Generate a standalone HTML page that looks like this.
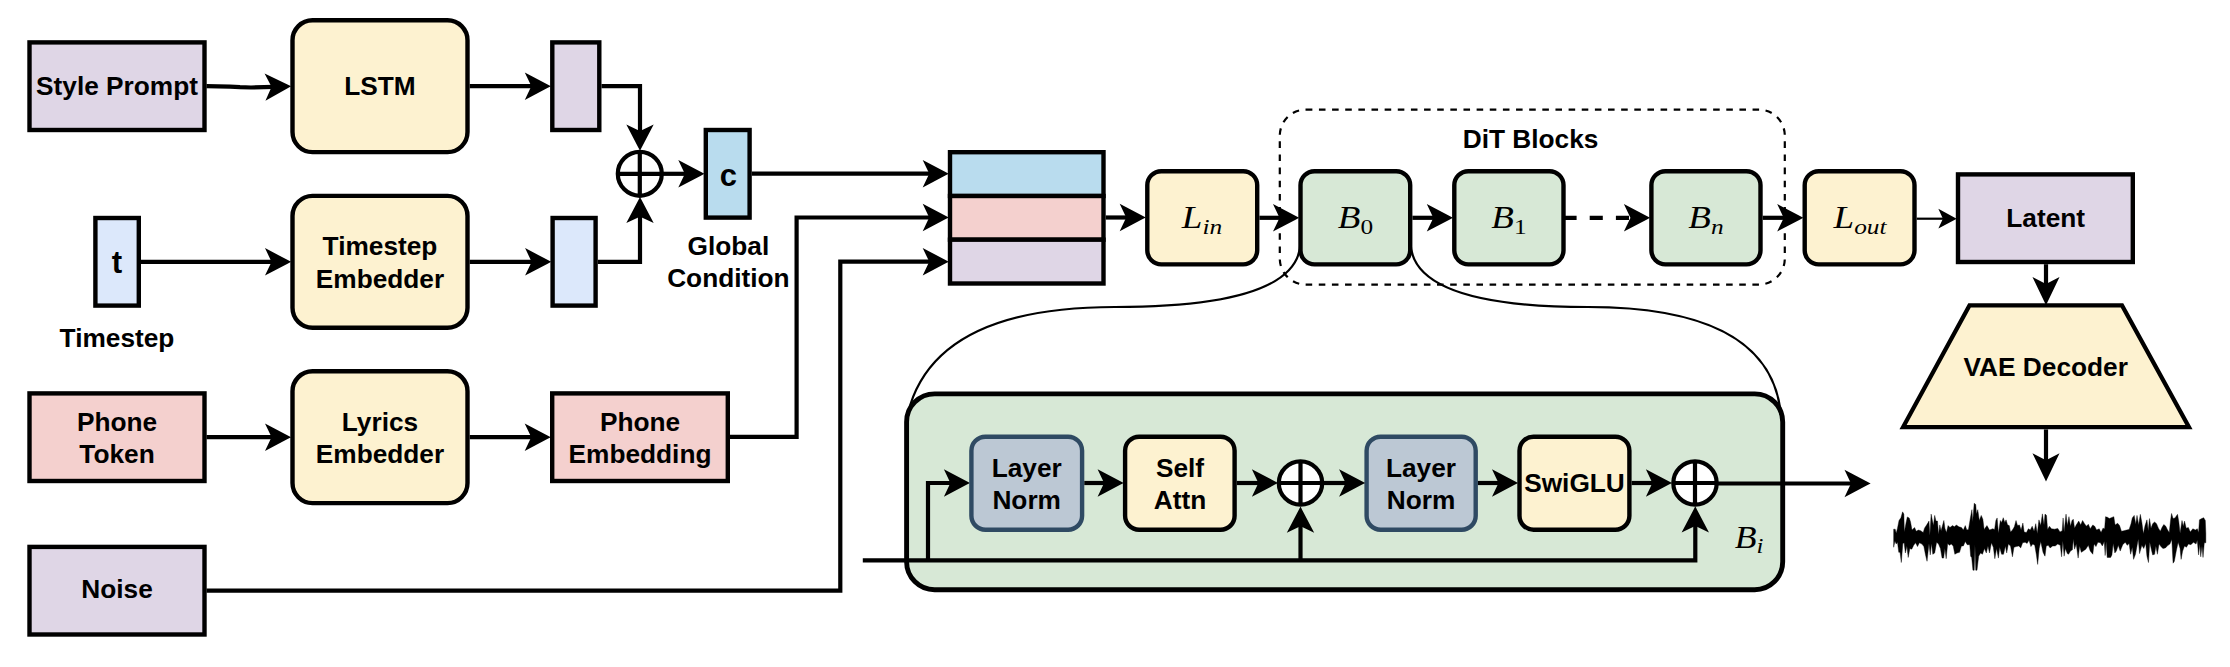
<!DOCTYPE html>
<html lang="en">
<head>
<meta charset="utf-8">
<title>Model architecture diagram</title>
<style>
html,body{margin:0;padding:0;background:#fff;}
body{width:2230px;height:667px;overflow:hidden;}
svg{display:block;}
.lb{font-family:"Liberation Sans",Arial,Helvetica,sans-serif;font-weight:700;text-anchor:middle;fill:#000;}
.mt{font-family:"Liberation Serif","Times New Roman",serif;font-style:italic;fill:#000;}
</style>
</head>
<body>
<svg width="2230" height="667" viewBox="0 0 2230 667">
<rect width="2230" height="667" fill="#fff"/>
<rect x="29.5" y="42.4" width="175" height="87.6" fill="#dfd6e6" stroke="#000" stroke-width="4.4"/>
<text x="117" y="95" class="lb" font-size="26.25">Style Prompt</text>
<rect x="292.5" y="20.3" width="175" height="131.8" rx="20" ry="20" fill="#fdf2d0" stroke="#000" stroke-width="4.4"/>
<text x="380" y="95" class="lb" font-size="26.25">LSTM</text>
<rect x="552.3" y="42.4" width="47" height="87.6" fill="#dfd6e6" stroke="#000" stroke-width="4.4"/>
<path d="M286.61 86.41L269.89 95.83L273.86 86.8L269.34 78.04Z" fill="#000" stroke="#000" stroke-width="4.2" stroke-miterlimit="10"/>
<path d="M206.5 86.2L218 86.3L230 86.7L240 87.2L251 87.5L273.86 86.8" fill="none" stroke="#000" stroke-width="4.2" stroke-miterlimit="10"/>
<path d="M546.4 86.2L529.4 95.1L533.65 86.2L529.4 77.3Z" fill="#000" stroke="#000" stroke-width="4.2" stroke-miterlimit="10"/>
<path d="M469.7 86.2L533.65 86.2" fill="none" stroke="#000" stroke-width="4.2" stroke-miterlimit="10"/>
<path d="M640 146.2L631.1 129.2L640 133.45L648.9 129.2Z" fill="#000" stroke="#000" stroke-width="4.2" stroke-miterlimit="10"/>
<path d="M601.5 86.2L640 86.2L640 133.45" fill="none" stroke="#000" stroke-width="4.2" stroke-miterlimit="10"/>
<rect x="95.4" y="218" width="43.4" height="87.6" fill="#dce8fb" stroke="#000" stroke-width="4.4"/>
<text x="117" y="272.79" class="lb" font-size="31.3">t</text>
<text x="117" y="346.6" class="lb" font-size="26.25">Timestep</text>
<rect x="292.5" y="195.9" width="175" height="131.8" rx="20" ry="20" fill="#fdf2d0" stroke="#000" stroke-width="4.4"/>
<text x="380" y="255.35" class="lb" font-size="26.25">Timestep</text>
<text x="380" y="288.05" class="lb" font-size="26.25">Embedder</text>
<rect x="552.6" y="218" width="43" height="87.6" fill="#dce8fb" stroke="#000" stroke-width="4.4"/>
<path d="M286.6 261.8L269.6 270.7L273.85 261.8L269.6 252.9Z" fill="#000" stroke="#000" stroke-width="4.2" stroke-miterlimit="10"/>
<path d="M141 261.8L273.85 261.8" fill="none" stroke="#000" stroke-width="4.2" stroke-miterlimit="10"/>
<path d="M546.7 261.8L529.7 270.7L533.95 261.8L529.7 252.9Z" fill="#000" stroke="#000" stroke-width="4.2" stroke-miterlimit="10"/>
<path d="M469.7 261.8L533.95 261.8" fill="none" stroke="#000" stroke-width="4.2" stroke-miterlimit="10"/>
<path d="M640 201.5L648.9 218.5L640 214.25L631.1 218.5Z" fill="#000" stroke="#000" stroke-width="4.2" stroke-miterlimit="10"/>
<path d="M597.8 261.8L640 261.8L640 214.25" fill="none" stroke="#000" stroke-width="4.2" stroke-miterlimit="10"/>
<circle cx="639.8" cy="173.8" r="22" fill="#fff" stroke="#000" stroke-width="4.2"/>
<path d="M617.8 173.8H661.8M639.8 151.8V195.8" stroke="#000" stroke-width="4.2" fill="none"/>
<rect x="705.8" y="130" width="43.8" height="87.6" fill="#b9dcee" stroke="#000" stroke-width="4.4"/>
<text x="728.4" y="185.99" class="lb" font-size="31">c</text>
<path d="M699.9 173.8L682.9 182.7L687.15 173.8L682.9 164.9Z" fill="#000" stroke="#000" stroke-width="4.2" stroke-miterlimit="10"/>
<path d="M661.8 173.8L687.15 173.8" fill="none" stroke="#000" stroke-width="4.2" stroke-miterlimit="10"/>
<text x="728.4" y="254.7" class="lb" font-size="26.25">Global</text>
<text x="728.4" y="287.2" class="lb" font-size="26.25">Condition</text>
<path d="M944.3 173.7L927.3 182.6L931.55 173.7L927.3 164.8Z" fill="#000" stroke="#000" stroke-width="4.2" stroke-miterlimit="10"/>
<path d="M751.8 173.7L931.55 173.7" fill="none" stroke="#000" stroke-width="4.2" stroke-miterlimit="10"/>
<rect x="29.5" y="393.4" width="175" height="87.6" fill="#f4d0ce" stroke="#000" stroke-width="4.4"/>
<text x="117" y="430.75" class="lb" font-size="26.25">Phone</text>
<text x="117" y="463.45" class="lb" font-size="26.25">Token</text>
<rect x="292.5" y="371.3" width="175" height="131.8" rx="20" ry="20" fill="#fdf2d0" stroke="#000" stroke-width="4.4"/>
<text x="380" y="430.75" class="lb" font-size="26.25">Lyrics</text>
<text x="380" y="463.45" class="lb" font-size="26.25">Embedder</text>
<rect x="552.2" y="393.4" width="175.6" height="87.6" fill="#f4d0ce" stroke="#000" stroke-width="4.4"/>
<text x="640" y="430.75" class="lb" font-size="26.25">Phone</text>
<text x="640" y="463.45" class="lb" font-size="26.25">Embedding</text>
<path d="M286.6 437.2L269.6 446.1L273.85 437.2L269.6 428.3Z" fill="#000" stroke="#000" stroke-width="4.2" stroke-miterlimit="10"/>
<path d="M206.5 437.2L273.85 437.2" fill="none" stroke="#000" stroke-width="4.2" stroke-miterlimit="10"/>
<path d="M546.3 437.2L529.3 446.1L533.55 437.2L529.3 428.3Z" fill="#000" stroke="#000" stroke-width="4.2" stroke-miterlimit="10"/>
<path d="M469.7 437.2L533.55 437.2" fill="none" stroke="#000" stroke-width="4.2" stroke-miterlimit="10"/>
<path d="M944.3 217.5L927.3 226.4L931.55 217.5L927.3 208.6Z" fill="#000" stroke="#000" stroke-width="4.2" stroke-miterlimit="10"/>
<path d="M730 436.8L796.6 436.8L796.6 217.5L931.55 217.5" fill="none" stroke="#000" stroke-width="4.2" stroke-miterlimit="10"/>
<rect x="29.5" y="546.9" width="175" height="87.6" fill="#dfd6e6" stroke="#000" stroke-width="4.4"/>
<text x="117" y="598.2" class="lb" font-size="26.25">Noise</text>
<path d="M944.3 261.7L927.3 270.6L931.55 261.7L927.3 252.8Z" fill="#000" stroke="#000" stroke-width="4.2" stroke-miterlimit="10"/>
<path d="M206.5 590.7L840.3 590.7L840.3 261.7L931.55 261.7" fill="none" stroke="#000" stroke-width="4.2" stroke-miterlimit="10"/>
<rect x="950" y="152.2" width="153.5" height="43.8" fill="#b9dcee" stroke="#000" stroke-width="4.4"/>
<rect x="950" y="196" width="153.5" height="43.7" fill="#f4d0ce" stroke="#000" stroke-width="4.4"/>
<rect x="950" y="239.7" width="153.5" height="43.8" fill="#dfd6e6" stroke="#000" stroke-width="4.4"/>
<path d="M1141.3 217.5L1124.3 226.4L1128.55 217.5L1124.3 208.6Z" fill="#000" stroke="#000" stroke-width="4.2" stroke-miterlimit="10"/>
<path d="M1105.7 217.5L1128.55 217.5" fill="none" stroke="#000" stroke-width="4.2" stroke-miterlimit="10"/>
<path d="M1300.5 241.5Q1300.5 307 1115 307Q941.5 307 910.2 405" fill="none" stroke="#000" stroke-width="2.2"/>
<path d="M1410.5 241.5Q1410.5 307 1588 307Q1765.5 307 1780.2 408.4" fill="none" stroke="#000" stroke-width="2.2"/>
<rect x="1279.8" y="109.6" width="505" height="175" rx="26" ry="26" fill="none" stroke="#000" stroke-width="2.2" stroke-dasharray="6.57 6.57"/>
<text x="1530.6" y="147.6" class="lb" font-size="26.25">DiT Blocks</text>
<rect x="1147.3" y="171.2" width="109.9" height="93.2" rx="14" ry="14" fill="#fdf2d0" stroke="#000" stroke-width="4.4"/>
<rect x="1300.5" y="171.2" width="109.7" height="93.2" rx="14" ry="14" fill="#d7e8d6" stroke="#000" stroke-width="4.4"/>
<rect x="1454.3" y="171.2" width="109.2" height="93.2" rx="14" ry="14" fill="#d7e8d6" stroke="#000" stroke-width="4.4"/>
<rect x="1651.4" y="171.2" width="109.1" height="93.2" rx="14" ry="14" fill="#d7e8d6" stroke="#000" stroke-width="4.4"/>
<rect x="1804.7" y="171.2" width="109.8" height="93.2" rx="14" ry="14" fill="#fdf2d0" stroke="#000" stroke-width="4.4"/>
<g transform="translate(1202 228) scale(1.15 1)"><text class="mt" text-anchor="middle" font-size="32.2"><tspan>L</tspan><tspan font-size="22" dy="5.5">in</tspan></text></g>
<g transform="translate(1355.5 228) scale(1.15 1)"><text class="mt" text-anchor="middle" font-size="32.2"><tspan>B</tspan><tspan font-size="22" dy="5.5" font-style="normal">0</tspan></text></g>
<g transform="translate(1509 228) scale(1.15 1)"><text class="mt" text-anchor="middle" font-size="32.2"><tspan>B</tspan><tspan font-size="22" dy="5.5" font-style="normal">1</tspan></text></g>
<g transform="translate(1706 228) scale(1.15 1)"><text class="mt" text-anchor="middle" font-size="32.2"><tspan>B</tspan><tspan font-size="22" dy="5.5">n</tspan></text></g>
<g transform="translate(1860 228) scale(1.15 1)"><text class="mt" text-anchor="middle" font-size="32.2"><tspan>L</tspan><tspan font-size="22" dy="5.5">out</tspan></text></g>
<path d="M1294.6 217.8L1277.6 226.7L1281.85 217.8L1277.6 208.9Z" fill="#000" stroke="#000" stroke-width="4.2" stroke-miterlimit="10"/>
<path d="M1259.4 217.8L1281.85 217.8" fill="none" stroke="#000" stroke-width="4.2" stroke-miterlimit="10"/>
<path d="M1448.4 217.8L1431.4 226.7L1435.65 217.8L1431.4 208.9Z" fill="#000" stroke="#000" stroke-width="4.2" stroke-miterlimit="10"/>
<path d="M1412.4 217.8L1435.65 217.8" fill="none" stroke="#000" stroke-width="4.2" stroke-miterlimit="10"/>
<path d="M1645.5 217.8L1628.5 226.7L1632.75 217.8L1628.5 208.9Z" fill="#000" stroke="#000" stroke-width="4.2" stroke-miterlimit="10"/>
<path d="M1563.5 217.8L1632.75 217.8" fill="none" stroke="#000" stroke-width="4.2" stroke-miterlimit="10" stroke-dasharray="13.1 13.1"/>
<path d="M1798.8 217.8L1781.8 226.7L1786.05 217.8L1781.8 208.9Z" fill="#000" stroke="#000" stroke-width="4.2" stroke-miterlimit="10"/>
<path d="M1762.7 217.8L1786.05 217.8" fill="none" stroke="#000" stroke-width="4.2" stroke-miterlimit="10"/>
<path d="M1954.34 218.7L1940.74 226L1944.14 218.7L1940.74 211.4Z" fill="#000" stroke="#000" stroke-width="2.2" stroke-miterlimit="10"/>
<path d="M1916.7 218.7L1944.14 218.7" fill="none" stroke="#000" stroke-width="2.2" stroke-miterlimit="10"/>
<rect x="1958" y="174.4" width="174.8" height="87.6" fill="#dfd6e6" stroke="#000" stroke-width="4.4"/>
<text x="2045.7" y="227.1" class="lb" font-size="26.25">Latent</text>
<path d="M2046 300.3L2037.1 281.8L2046 286.43L2054.9 281.8Z" fill="#000" stroke="#000" stroke-width="4.2" stroke-miterlimit="10"/>
<path d="M2046 264.2L2046 286.43" fill="none" stroke="#000" stroke-width="4.2" stroke-miterlimit="10"/>
<path d="M1903 427.2L1969.5 305.4H2122L2189 427.2Z" fill="#fdf2d0" stroke="#000" stroke-width="4.2" stroke-miterlimit="10"/>
<text x="2045.7" y="376.1" class="lb" font-size="26.25">VAE Decoder</text>
<path d="M2046 476.6L2037.1 458.1L2046 462.73L2054.9 458.1Z" fill="#000" stroke="#000" stroke-width="4.2" stroke-miterlimit="10"/>
<path d="M2046 429.4L2046 462.73" fill="none" stroke="#000" stroke-width="4.2" stroke-miterlimit="10"/>
<polygon points="1893.67,529.15 1895.19,529.15 1896.21,533.23 1897.49,528.13 1899.02,520.49 1900.93,517.68 1902.59,511.82 1903.86,514.12 1904.37,531.96 1906.03,523.04 1907.3,516.92 1909.21,517.94 1910.49,521.76 1912.02,530.05 1914.57,527.5 1916.22,531.32 1918.39,530.05 1920.68,530.68 1923.23,532.59 1924.51,528.13 1927.05,524.31 1928.97,521.12 1929.86,535.78 1931.13,514.12 1932.41,520.49 1933.43,525.58 1934.7,515.39 1935.97,521.12 1937.5,521.12 1938.52,534.51 1939.8,524.95 1941.07,530.68 1943.88,520.49 1944.9,528.13 1946.42,532.59 1948.08,525.58 1949.99,527.5 1952.54,525.58 1954.45,526.86 1956.36,524.95 1958.91,526.86 1961.46,527.5 1963.37,530.05 1965.29,525.58 1966.81,530.05 1968.47,529.41 1970.38,517.94 1971.91,509.66 1972.68,521.76 1974.21,503.28 1975.74,504.56 1976.5,514.12 1977.77,509.66 1979.3,520.49 1981.22,515.39 1982.87,519.21 1984.15,529.41 1986.95,525.58 1989.5,530.05 1992.68,528.77 1994.6,529.41 1995.87,520.49 1997.14,517.94 1998.42,533.23 2000.33,520.49 2001.61,522.4 2003.26,517.68 2004.79,522.4 2006.07,519.85 2007.59,524.95 2009.25,525.58 2010.53,531.96 2012.44,530.05 2014.35,526.86 2016.01,520.49 2017.53,525.58 2019.45,524.95 2021.1,530.05 2022.89,523.04 2024.16,531.96 2026.46,532.59 2028.37,528.77 2030.28,530.05 2032.19,526.22 2034.1,531.32 2035.76,523.67 2037.29,533.87 2038.94,519.85 2040.73,525.58 2042.38,513.86 2044.04,524.95 2045,514.12 2046.53,515.39 2047.55,529.41 2049.46,526.22 2051.37,528.77 2054.56,529.15 2057.74,528.39 2060.04,531.96 2062.2,530.68 2063.1,517.94 2064.12,531.96 2066.03,514.12 2067.3,525.58 2068.96,516.66 2070.49,526.22 2072.02,520.49 2073.29,519.21 2074.57,528.13 2076.22,524.95 2078.77,521.12 2080.68,524.95 2082.59,520.49 2084.51,523.67 2086.42,526.22 2088.33,524.31 2090.24,528.77 2092.79,524.95 2094.7,526.22 2096.61,530.05 2099.16,528.77 2101.07,532.59 2102.98,528.13 2104.64,528.77 2105.53,516.66 2107.44,517.3 2109.36,518.58 2111.27,517.68 2113.82,516.66 2115.09,524.95 2117.64,523.29 2119.55,525.58 2121.46,531.32 2124.01,530.68 2126.56,530.05 2129.11,529.41 2131.02,523.67 2132.29,517.94 2134.21,515.39 2135.74,524.31 2137.01,515.39 2138.67,524.95 2140.32,514.37 2141.85,522.4 2143.38,533.87 2145.04,525.58 2146.95,519.85 2148.22,530.68 2149.5,518.58 2151.03,528.13 2152.68,523.67 2154.6,522.02 2156.51,523.67 2158.42,528.13 2160.33,531.32 2161.99,527.5 2163.77,524.57 2165.81,526.22 2167.34,529.41 2169.25,532.59 2170.53,520.49 2171.55,513.48 2173.07,518.58 2174.99,517.94 2177.53,514.37 2178.81,521.76 2180.08,533.23 2182,520.49 2183.27,526.22 2184.54,521.12 2186.2,528.13 2188.37,527.5 2190.28,531.96 2192.83,528.77 2195.38,530.05 2197.29,528.77 2198.56,532.59 2199.45,519.85 2201.75,518.58 2203.66,517.68 2205.32,520.49 2205.83,533.23 2205.83,542.79 2204.3,542.79 2203.02,557.44 2202,545.97 2200.73,556.81 2199.84,544.06 2198.56,554.9 2197.29,540.24 2196.01,544.06 2193.46,542.15 2190.92,544.7 2188.37,544.06 2186.46,547.25 2184.54,545.97 2182.63,551.07 2181.1,559.36 2180.08,548.52 2178.17,542.15 2176.26,551.07 2174.35,561.27 2173.07,563.18 2171.8,539.6 2169.89,544.06 2167.98,545.34 2165.43,547.89 2162.88,548.52 2160.97,546.61 2159.06,544.06 2157.4,554.26 2155.87,545.97 2154.6,554.26 2152.68,554.9 2151.41,549.8 2149.75,542.15 2148.48,562.54 2146.95,556.17 2145.68,543.43 2143.76,548.52 2141.85,545.34 2139.56,553.62 2138.28,538.97 2137.01,545.97 2135.48,554.26 2133.57,559.36 2132.29,547.25 2130.64,554.26 2129.11,543.43 2127.2,545.34 2125.29,542.15 2122.74,544.7 2120.19,551.07 2118.28,545.34 2116.36,551.07 2114.84,552.98 2113.18,543.43 2111.9,554.9 2110.63,557.44 2107.19,557.44 2106.17,541.51 2105.15,555.53 2104.26,541.51 2102.35,545.97 2100.44,542.79 2097.89,542.15 2095.97,546.61 2094.06,544.06 2092.79,554.26 2090.24,551.07 2088.33,545.34 2085.78,549.16 2083.23,551.07 2081.32,552.35 2079.66,545.97 2078.13,558.08 2076.22,544.06 2074.57,549.16 2073.29,538.97 2072.4,549.8 2070.49,551.07 2068.58,554.26 2067.3,553.62 2065.39,548.52 2064.12,556.17 2062.84,540.88 2061.57,556.81 2060.29,545.34 2057.74,544.06 2055.19,545.97 2052.65,545.97 2050.1,547.89 2048.19,545.34 2046.27,545.97 2045,556.17 2044.3,554.9 2043.02,552.35 2040.73,541.51 2039.2,548.52 2037.67,564.45 2036.4,554.9 2034.74,545.34 2032.83,544.06 2030.92,546.61 2029,540.24 2027.09,543.43 2025.18,542.15 2022.63,542.79 2020.72,547.89 2018.81,545.97 2016.26,546.61 2013.97,547.25 2012.44,556.81 2010.53,545.97 2008.36,544.06 2006.7,552.98 2005.43,545.97 2003.52,554.26 2001.61,554.26 1999.69,547.25 1998.42,558.08 1996.51,548.52 1994.85,558.72 1993.32,547.25 1991.41,542.79 1989.5,552.98 1987.97,545.97 1986.31,552.98 1984.4,548.52 1982.49,554.26 1980.58,552.98 1978.67,556.17 1977.01,570.19 1975.74,570.19 1974.97,544.7 1974.21,570.19 1972.93,570.19 1971.66,557.44 1970.64,556.17 1969.75,544.7 1967.2,544.7 1965.29,541.51 1963.37,545.97 1961.46,545.97 1959.55,552.35 1957,552.98 1954.84,554.26 1953.18,545.97 1951.27,544.06 1949.36,545.34 1947.7,543.43 1946.17,558.72 1944.9,548.52 1943.62,558.08 1942.09,558.08 1940.44,548.52 1938.52,544.06 1936.61,542.15 1934.7,552.98 1932.79,554.26 1931.51,543.43 1930.24,554.9 1928.97,543.43 1927.05,561.27 1925.53,554.9 1923.87,546.61 1921.96,544.06 1919.41,542.79 1917.5,546.61 1915.58,542.79 1913.67,545.34 1911.76,549.16 1909.85,548.52 1908.19,557.44 1906.92,545.97 1905.39,552.98 1904.12,542.79 1902.84,543.43 1901.31,562.54 1900.04,552.35 1898.76,552.35 1897.49,542.15 1896.21,544.06 1894.94,540.88 1893.67,547.25" fill="#000" stroke="#000" stroke-width="0.4" stroke-linejoin="round"/>
<rect x="906.6" y="393.9" width="876.1" height="195.9" rx="28" ry="28" fill="#d7e8d6" stroke="#000" stroke-width="4.9"/>
<path d="M1695.3 510.9L1704.2 527.9L1695.3 523.65L1686.4 527.9Z" fill="#000" stroke="#000" stroke-width="4.2" stroke-miterlimit="10"/>
<path d="M862.8 560.3L1695.3 560.3L1695.3 523.65" fill="none" stroke="#000" stroke-width="4.2" stroke-miterlimit="10"/>
<path d="M1300.5 511.1L1309.4 528.1L1300.5 523.85L1291.6 528.1Z" fill="#000" stroke="#000" stroke-width="4.2" stroke-miterlimit="10"/>
<path d="M1300.5 560.3L1300.5 523.85" fill="none" stroke="#000" stroke-width="4.2" stroke-miterlimit="10"/>
<path d="M965.5 483L948.5 491.9L952.75 483L948.5 474.1Z" fill="#000" stroke="#000" stroke-width="4.2" stroke-miterlimit="10"/>
<path d="M928 560.3L928 483L952.75 483" fill="none" stroke="#000" stroke-width="4.2" stroke-miterlimit="10"/>
<rect x="971.4" y="436.7" width="110.7" height="93" rx="14" ry="14" fill="#bcc8d4" stroke="#2f4a63" stroke-width="4.4"/>
<text x="1026.7" y="476.55" class="lb" font-size="26.25">Layer</text>
<text x="1026.7" y="509.25" class="lb" font-size="26.25">Norm</text>
<rect x="1125.1" y="436.7" width="109.5" height="93" rx="14" ry="14" fill="#fdf2d0" stroke="#000" stroke-width="4.4"/>
<text x="1180" y="476.55" class="lb" font-size="26.25">Self</text>
<text x="1180" y="509.25" class="lb" font-size="26.25">Attn</text>
<circle cx="1300.5" cy="483" r="21.7" fill="#fff" stroke="#000" stroke-width="4.2"/>
<path d="M1278.8 483H1322.2M1300.5 461.3V504.7" stroke="#000" stroke-width="4.2" fill="none"/>
<rect x="1366.6" y="436.7" width="109.1" height="93" rx="14" ry="14" fill="#bcc8d4" stroke="#2f4a63" stroke-width="4.4"/>
<text x="1421" y="476.55" class="lb" font-size="26.25">Layer</text>
<text x="1421" y="509.25" class="lb" font-size="26.25">Norm</text>
<rect x="1519.5" y="436.7" width="109.9" height="93" rx="14" ry="14" fill="#fdf2d0" stroke="#000" stroke-width="4.4"/>
<text x="1574.5" y="491.8" class="lb" font-size="26.25">SwiGLU</text>
<circle cx="1695" cy="483" r="21.7" fill="#fff" stroke="#000" stroke-width="4.2"/>
<path d="M1673.3 483H1716.7M1695 461.3V504.7" stroke="#000" stroke-width="4.2" fill="none"/>
<path d="M1119.2 483L1102.2 491.9L1106.45 483L1102.2 474.1Z" fill="#000" stroke="#000" stroke-width="4.2" stroke-miterlimit="10"/>
<path d="M1084.3 483L1106.45 483" fill="none" stroke="#000" stroke-width="4.2" stroke-miterlimit="10"/>
<path d="M1273.5 483L1256.5 491.9L1260.75 483L1256.5 474.1Z" fill="#000" stroke="#000" stroke-width="4.2" stroke-miterlimit="10"/>
<path d="M1236.8 483L1260.75 483" fill="none" stroke="#000" stroke-width="4.2" stroke-miterlimit="10"/>
<path d="M1360.7 483L1343.7 491.9L1347.95 483L1343.7 474.1Z" fill="#000" stroke="#000" stroke-width="4.2" stroke-miterlimit="10"/>
<path d="M1322.2 483L1347.95 483" fill="none" stroke="#000" stroke-width="4.2" stroke-miterlimit="10"/>
<path d="M1513.6 483L1496.6 491.9L1500.85 483L1496.6 474.1Z" fill="#000" stroke="#000" stroke-width="4.2" stroke-miterlimit="10"/>
<path d="M1477.9 483L1500.85 483" fill="none" stroke="#000" stroke-width="4.2" stroke-miterlimit="10"/>
<path d="M1667.5 483L1650.5 491.9L1654.75 483L1650.5 474.1Z" fill="#000" stroke="#000" stroke-width="4.2" stroke-miterlimit="10"/>
<path d="M1631.6 483L1654.75 483" fill="none" stroke="#000" stroke-width="4.2" stroke-miterlimit="10"/>
<path d="M1866.1 483.5L1849.1 492.4L1853.35 483.5L1849.1 474.6Z" fill="#000" stroke="#000" stroke-width="4.2" stroke-miterlimit="10"/>
<path d="M1716.7 483.5L1853.35 483.5" fill="none" stroke="#000" stroke-width="4.2" stroke-miterlimit="10"/>
<g transform="translate(1749 547.5) scale(1.15 1)"><text class="mt" text-anchor="middle" font-size="31"><tspan>B</tspan><tspan font-size="21.5" dy="5.5">i</tspan></text></g>
</svg>
</body>
</html>
